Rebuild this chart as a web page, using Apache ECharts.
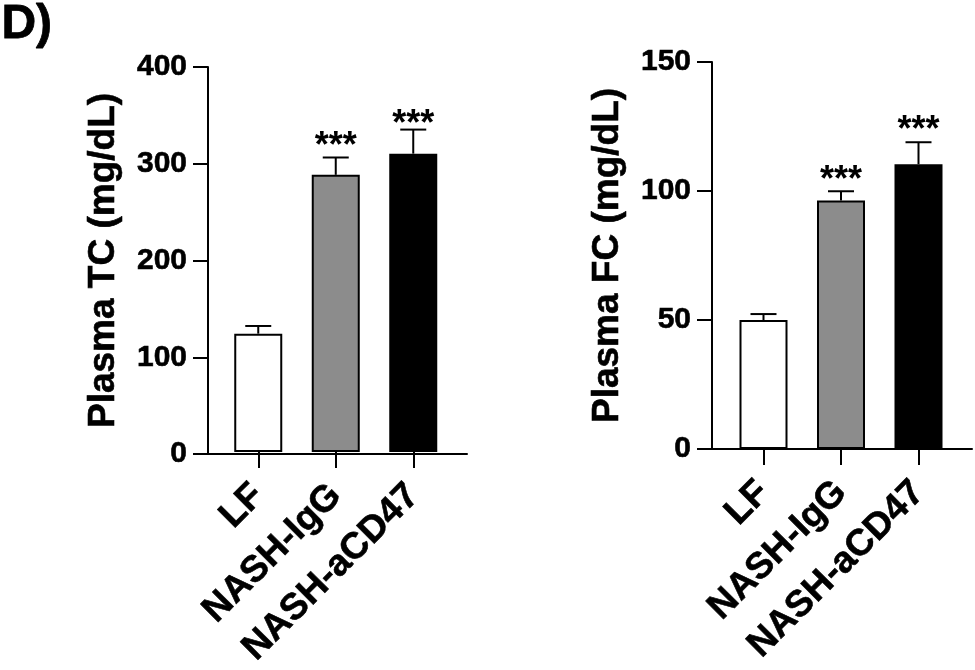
<!DOCTYPE html>
<html>
<head>
<meta charset="utf-8">
<script src="https://cdn.jsdelivr.net/npm/echarts@6/dist/echarts.min.js"></script>
<style>html,body{margin:0;padding:0;background:#fff}#c{width:975px;height:670px}</style>
</head>
<body>
<div id="c"></div>
<script>
// ---- data ----
const categories = ['LF', 'NASH-IgG', 'NASH-aCD47'];
const tcMean = [123, 288, 310];
const tcErr = [8, 18, 25];
const tcStar = [null, 325, 348];
const fcMean = [50, 96.3, 110.4];
const fcErr = [2.3, 3.6, 8.5];
const fcStar = [null, 106.9, 126.4];
const tcTicks = { min: 0, max: 400, interval: 100 };
const fcTicks = { min: 0, max: 150, interval: 50 };
const panelLetter = 'D)';
const tcName = 'Plasma TC (mg/dL)';
const fcName = 'Plasma FC (mg/dL)';
const barColors = ['#ffffff', '#8c8c8c', '#000000'];

const FONT = 'Liberation Sans';
const chart = echarts.init(document.getElementById('c'), null, { renderer: 'canvas' });

const heavy = { textBorderColor: '#000', textBorderWidth: 0.6 };

function frameY(gridIndex, ticks, name) {
  return {
    type: 'value', gridIndex, min: ticks.min, max: ticks.max, interval: ticks.interval,
    axisLine: { show: true, lineStyle: { color: '#000', width: 2 } },
    axisTick: { show: true, length: 15, lineStyle: { color: '#000', width: 2 } },
    axisLabel: Object.assign({ show: true, margin: 21, color: '#000', fontSize: 30, fontWeight: 'bold', fontFamily: FONT }, heavy),
    splitLine: { show: false },
    name, nameLocation: 'middle', nameRotate: 90, nameGap: 86,
    nameTextStyle: Object.assign({ color: '#000', fontSize: 37, fontWeight: 'bold', fontFamily: FONT }, heavy)
  };
}
function hiddenY(gridIndex, ticks) {
  return { type: 'value', gridIndex, min: ticks.min, max: ticks.max, show: false, splitLine: { show: false } };
}
function frameX(gridIndex) {
  return {
    type: 'value', gridIndex, min: 0, max: 1,
    axisLine: { show: true, onZero: false, lineStyle: { color: '#000', width: 2 } },
    axisTick: { show: false }, axisLabel: { show: false }, splitLine: { show: false }
  };
}
function catX(gridIndex) {
  return {
    type: 'category', gridIndex, data: categories,
    axisLine: { show: false },
    axisTick: { show: true, alignWithLabel: true, length: 16, lineStyle: { color: '#000', width: 2 } },
    axisLabel: Object.assign({ show: true, rotate: 45, margin: 38, color: '#000', fontSize: 37, fontWeight: 'bold', fontFamily: FONT, interval: 0 }, heavy),
    splitLine: { show: false }
  };
}
function barSeries(axisIndex, mean) {
  return {
    type: 'bar', xAxisIndex: axisIndex, yAxisIndex: axisIndex, barWidth: 48,
    data: mean.map((v, i) => ({ value: v, itemStyle: { color: barColors[i], borderColor: '#000', borderWidth: 2 } })),
    silent: true, animation: false
  };
}
function errSeries(axisIndex, mean, err) {
  return {
    type: 'custom', xAxisIndex: axisIndex, yAxisIndex: axisIndex, silent: true, animation: false, z: 1,
    data: mean.map((v, i) => [i, v, v + err[i]]),
    renderItem: function (params, api) {
      const p0 = api.coord([api.value(0), api.value(1)]);
      const p1 = api.coord([api.value(0), api.value(2)]);
      const st = { stroke: '#000', lineWidth: 2 };
      return {
        type: 'group', children: [
          { type: 'line', shape: { x1: p0[0], y1: p0[1], x2: p1[0], y2: p1[1] }, style: st },
          { type: 'line', shape: { x1: p1[0] - 13, y1: p1[1], x2: p1[0] + 13, y2: p1[1] }, style: st }
        ]
      };
    }
  };
}
function starSeries(axisIndex, stars) {
  return {
    type: 'custom', xAxisIndex: axisIndex, yAxisIndex: axisIndex, silent: true, animation: false, z: 3,
    data: stars.map((v, i) => v == null ? null : [i, v]).filter(d => d),
    renderItem: function (params, api) {
      const p = api.coord([api.value(0), api.value(1)]);
      return {
        type: 'text', x: p[0], y: p[1] + 8,
        style: { text: '***', fill: '#000', font: 'bold 36px "Liberation Sans"', align: 'center', verticalAlign: 'middle' }
      };
    }
  };
}

const option = {
  backgroundColor: '#fff',
  animation: false,
  grid: [
    { left: 208, top: 67, width: 259, height: 387 },
    { left: 219.5, top: 67, width: 232.5, height: 387 },
    { left: 712, top: 62, width: 260, height: 387 },
    { left: 724.75, top: 62, width: 232.5, height: 387 }
  ],
  xAxis: [frameX(0), catX(1), frameX(2), catX(3)],
  yAxis: [frameY(0, tcTicks, tcName), hiddenY(1, tcTicks), frameY(2, fcTicks, fcName), hiddenY(3, fcTicks)],
  series: [
    barSeries(1, tcMean), errSeries(1, tcMean, tcErr), starSeries(1, tcStar),
    barSeries(3, fcMean), errSeries(3, fcMean, fcErr), starSeries(3, fcStar)
  ],
  graphic: [
    { type: 'text', left: 1, top: 0, style: { text: panelLetter, font: 'bold 48px "Liberation Sans"', fill: '#000', stroke: '#000', lineWidth: 0.8 } }
  ]
};
chart.setOption(option);
</script>
</body>
</html>
